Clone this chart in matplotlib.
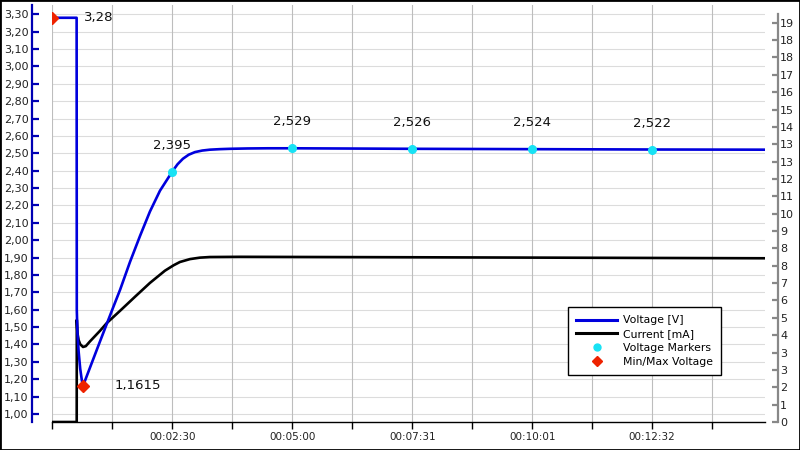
import matplotlib
matplotlib.use("Agg")
import matplotlib.pyplot as plt
from matplotlib.lines import Line2D
from matplotlib.patches import Rectangle
from matplotlib.ticker import FixedLocator, FuncFormatter
from matplotlib.transforms import blended_transform_factory

# ---------------- data ----------------
volt_t = [0, 30.5, 30.7, 31.5, 33.0, 35.0, 37.0, 38.5, 50, 60, 76, 85, 97.4, 110,
          122.4, 135, 150.4, 157.0, 163.8, 171.0, 178.8, 188.0, 197.6, 210.0,
          222.7, 245, 270, 300.8, 451.2, 601.6, 752.0, 893.5]
volt_v = [3.28, 3.28, 1.60, 1.47, 1.36, 1.26, 1.195, 1.1615, 1.30, 1.42, 1.61, 1.715,
          1.875, 2.025, 2.165, 2.285, 2.395, 2.437, 2.469, 2.492, 2.507, 2.516,
          2.521, 2.524, 2.526, 2.528, 2.529, 2.529, 2.526, 2.524, 2.522, 2.521]

curr_t = [0, 30.6, 30.7, 31.5, 33.0, 35.0, 38.5, 42.0, 47.0, 59.8, 68.2, 84.8, 103.6,
          122.4, 141.2, 152.0, 160.0, 172.6, 185.0, 197.6, 235.2, 435.8, 893.5]
curr_i = [0, 0, 4.93, 4.30, 3.95, 3.75, 3.62, 3.66, 3.88, 4.40, 4.77, 5.36, 6.04,
          6.71, 7.30, 7.56, 7.72, 7.86, 7.93, 7.96, 7.97, 7.95, 7.90]

marker_t = [150.4, 300.8, 451.2, 601.6, 752.0]
marker_v = [2.395, 2.529, 2.526, 2.524, 2.522]
marker_lbl = ["2,395", "2,529", "2,526", "2,524", "2,522"]

minmax_t = [0, 38.5]
minmax_v = [3.28, 1.1615]
minmax_lbl = ["3,28", "1,1615"]

v_ticks = [1.00 + 0.1 * i for i in range(24)]
i_step = 0.8375
i_ticks = [i * i_step for i in range(24)]
x_step = 75.2
x_ticks = [i * x_step for i in range(12)]

# ---------------- figure ----------------
fig = plt.figure(figsize=(8, 4.5), dpi=100)
ax = fig.add_axes([52.3 / 800, 28 / 450, (765 - 52.3) / 800, (445 - 28) / 450])
ax2 = ax.twinx()

BLUE = "#0000dd"
SPINE_BLUE = "#0000b4"
ax.set_xlim(0, 893.5)
ax.set_ylim(0.954, 3.3535)
ax2.set_ylim(0, 20.12)

# grid (drawn on the lower axes so that it stays beneath both curves)
gtrans = blended_transform_factory(ax2.transAxes, ax.transData)
for v in v_ticks:
    ax2.add_line(Line2D([0, 1], [v, v], transform=gtrans, color="#dcdcdc", lw=0.8,
                        zorder=0))
for x in x_ticks:
    ax2.axvline(x, color="#bdbdbd", lw=0.8, zorder=0)

ax.plot(volt_t, volt_v, color=BLUE, lw=1.9, zorder=3, solid_joinstyle="round")
ax2.plot(curr_t, curr_i, color="black", lw=1.9, zorder=2, solid_joinstyle="round")

ax.set_zorder(ax2.get_zorder() + 1)
ax.patch.set_visible(False)

ax.plot(marker_t, marker_v, "o", color="#18e2f4", ms=5.5, zorder=5, lw=0)
for t, v, s in zip(marker_t, marker_v, marker_lbl):
    ax.annotate(s, (t, v), xytext=(0, 19), textcoords="offset points",
                ha="center", va="center", fontsize=9.5, color="#111111")

ax.plot(minmax_t, minmax_v, "D", color="#ee2200", ms=6, zorder=6, lw=0)
for t, v, s in zip(minmax_t, minmax_v, minmax_lbl):
    ax.annotate(s, (t, v), xytext=(23, 0), textcoords="offset points",
                ha="left", va="center", fontsize=9.5, color="#111111")

# left axis
for sp in ["top", "right"]:
    ax.spines[sp].set_visible(False)
ax.spines["left"].set_position(("outward", 14.5))
ax.spines["left"].set_color(SPINE_BLUE)
ax.spines["left"].set_linewidth(1.6)
ax.yaxis.set_major_locator(FixedLocator(v_ticks))
ax.yaxis.set_major_formatter(FuncFormatter(lambda v, p: f"{v:.2f}".replace(".", ",")))
ax.tick_params(axis="y", direction="in", length=5, width=1.6, color=SPINE_BLUE,
               labelsize=8, labelcolor="#222222", pad=2.5)

# bottom axis
ax.spines["bottom"].set_color("black")
ax.spines["bottom"].set_linewidth(1.0)
ax.xaxis.set_major_locator(FixedLocator(x_ticks))


def fmt_time(x, p):
    i = int(round(x / x_step))
    if i == 0 or i % 2:
        return ""
    s = int(x)
    return f"{s // 3600:02d}:{(s % 3600) // 60:02d}:{s % 60:02d}"


ax.xaxis.set_major_formatter(FuncFormatter(fmt_time))
ax.tick_params(axis="x", direction="out", length=5, width=1.0, color="black",
               labelsize=7.5, labelcolor="#222222", pad=2)

# right axis
for sp in ["top", "left", "bottom"]:
    ax2.spines[sp].set_visible(False)
ax2.spines["right"].set_position(("outward", 9))
ax2.spines["right"].set_color("#888888")
ax2.spines["right"].set_linewidth(1.6)
ax2.spines["right"].set_bounds(0, 19.7)
ax2.yaxis.set_major_locator(FixedLocator(i_ticks))
ax2.yaxis.set_major_formatter(FuncFormatter(lambda v, p: f"{v:.0f}"))
ax2.tick_params(axis="y", direction="in", length=4.5, width=1.6, color="#888888",
                labelsize=8, labelcolor="#222222", pad=2)

# legend
handles = [
    Line2D([], [], color=BLUE, lw=2.2),
    Line2D([], [], color="black", lw=2.2),
    Line2D([], [], marker="o", color="#18e2f4", lw=0, ms=5),
    Line2D([], [], marker="D", color="#ee2200", lw=0, ms=5),
]
labels = ["Voltage [V]", "Current [mA]", "Voltage Markers", "Min/Max Voltage"]
leg = ax.legend(handles, labels, loc="upper left", bbox_to_anchor=(0.7236, 0.2758),
                fontsize=7.8, frameon=True, fancybox=False, framealpha=1,
                edgecolor="black", borderpad=0.78, labelspacing=0.35,
                handlelength=3.7, handletextpad=0.55, borderaxespad=0)
leg.get_frame().set_linewidth(1.0)
leg.set_zorder(10)

fig.patches.append(Rectangle((0, 0), 1, 1, transform=fig.transFigure, fill=False,
                             edgecolor="black", lw=2))

fig.savefig("out.png", dpi=100)
